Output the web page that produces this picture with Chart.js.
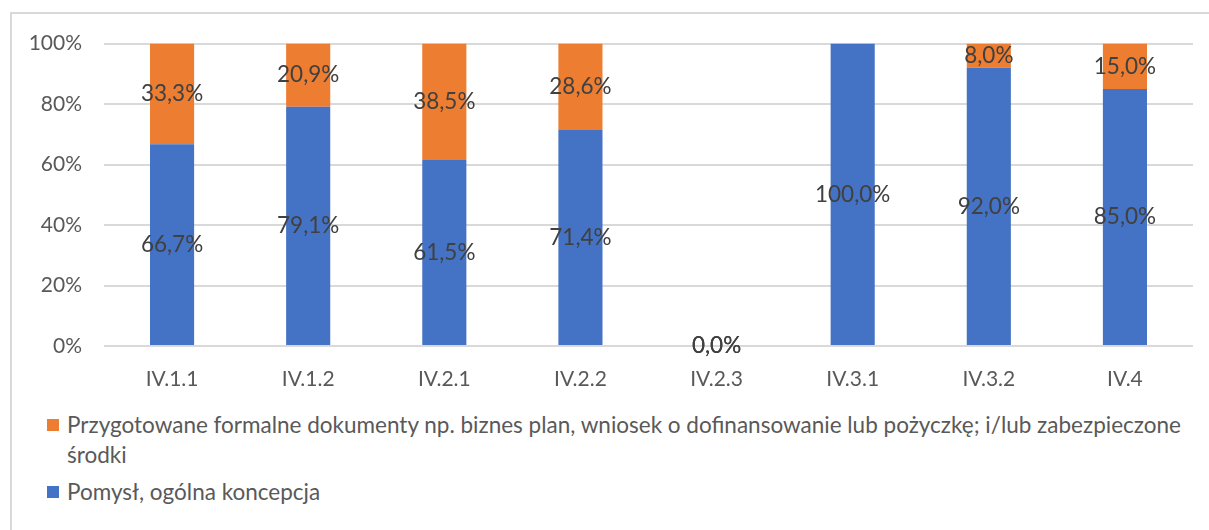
<!DOCTYPE html>
<html>
<head>
<meta charset="utf-8">
<script src="https://cdn.jsdelivr.net/npm/chart.js@4/dist/chart.umd.min.js"></script>
<style>
    html, body { margin: 0; padding: 0; background: #fff; }
    body { width: 1209px; height: 530px; overflow: hidden; position: relative; font-family: 'Lato', sans-serif; }
    #frame { position: absolute; left: 10px; top: 12px; width: 1199px; height: 520px; border-top: 2px solid #d9d9d9; border-left: 2px solid #d9d9d9; }
    #chartBox { position: absolute; left: 0; top: -5px; width: 1197px; height: 391px; }
    #legend { position: absolute; left: 35px; top: 396px; width: 1150px; color: #595959; font-size: 22.5px; line-height: 30px; }
    .item { position: relative; padding-left: 20px; margin-bottom: 7px; }
    .swatch { position: absolute; left: 0; top: 9px; width: 12px; height: 12px; }
</style>
</head>
<body>
<div id="frame">
    <div id="chartBox"><canvas id="chart"></canvas></div>
    <div id="legend"></div>
</div>
<script>
const CATEGORIES = ['IV.1.1', 'IV.1.2', 'IV.2.1', 'IV.2.2', 'IV.2.3', 'IV.3.1', 'IV.3.2', 'IV.4'];
const IDEA = [66.7, 79.1, 61.5, 71.4, 0, 100, 92.0, 85.0];            // Pomysł, ogólna koncepcja
const DOCUMENTS = [33.3, 20.9, 38.5, 28.6, 0, null, 8.0, 15.0];        // Przygotowane formalne dokumenty...
const Y_TICKS = [0, 20, 40, 60, 80, 100];

const LABEL_IDEA = 'Pomysł, ogólna koncepcja';
const LABEL_DOCS = 'Przygotowane formalne dokumenty np. biznes plan, wniosek o dofinansowanie lub pożyczkę; i/lub zabezpieczone środki';

const COLORS = { blue: '#4472C4', orange: '#ED7D31', grid: '#d9d9d9', text: '#595959', label: '#404040' };

// value labels centred in each segment (Excel style)
const segmentLabels = {
    id: 'segmentLabels',
    afterDatasetsDraw(chart) {
        const ctx = chart.ctx;
        ctx.save();
        ctx.font = "22.5px 'Lato', sans-serif";
        ctx.fillStyle = COLORS.label;
        ctx.textAlign = 'center';
        ctx.textBaseline = 'middle';
        chart.data.datasets.forEach((ds, i) => {
            chart.getDatasetMeta(i).data.forEach((el, j) => {
                const v = ds.data[j];
                if (v === null || v === undefined) return;
                const txt = v.toFixed(1).replace('.', ',') + '%';
                ctx.fillText(txt, el.x, (el.y + el.base) / 2);
            });
        });
        ctx.restore();
    }
};

new Chart(document.getElementById('chart'), {
    type: 'bar',
    data: {
        labels: CATEGORIES,
        datasets: [
            { label: LABEL_IDEA, data: IDEA, backgroundColor: COLORS.blue, categoryPercentage: 1, barPercentage: 0.324 },
            { label: LABEL_DOCS, data: DOCUMENTS, backgroundColor: COLORS.orange, categoryPercentage: 1, barPercentage: 0.324 }
        ]
    },
    options: {
        responsive: true, maintainAspectRatio: false, animation: false,
        layout: { padding: { top: 0, right: 16, left: 0, bottom: 0 } },
        plugins: { legend: { display: false }, tooltip: { enabled: false } },
        scales: {
            x: {
                stacked: true,
                grid: { display: false },
                border: { display: false },
                ticks: { color: COLORS.text, font: { family: "'Lato', sans-serif", size: 21 }, padding: 13 },
                afterFit(scale) { scale.height = 54; }
            },
            y: {
                stacked: true, min: 0, max: 100,
                afterBuildTicks(scale) { scale.ticks = Y_TICKS.map(v => ({ value: v })); },
                grid: { color: COLORS.grid, lineWidth: 2, drawTicks: false },
                border: { display: false },
                ticks: { color: COLORS.text, font: { family: "'Lato', sans-serif", size: 21 }, padding: 22, callback: v => v + '%' },
                afterFit(scale) { scale.width = 92; }
            }
        }
    },
    plugins: [segmentLabels]
});

// legend drawn as HTML so the long label wraps like the original
const legend = document.getElementById('legend');
[[LABEL_DOCS, COLORS.orange], [LABEL_IDEA, COLORS.blue]].forEach(([text, color]) => {
    const row = document.createElement('div');
    row.className = 'item';
    row.innerHTML = '<span class="swatch" style="background:' + color + '"></span>';
    row.appendChild(document.createTextNode(text));
    legend.appendChild(row);
});
</script>
</body>
</html>
